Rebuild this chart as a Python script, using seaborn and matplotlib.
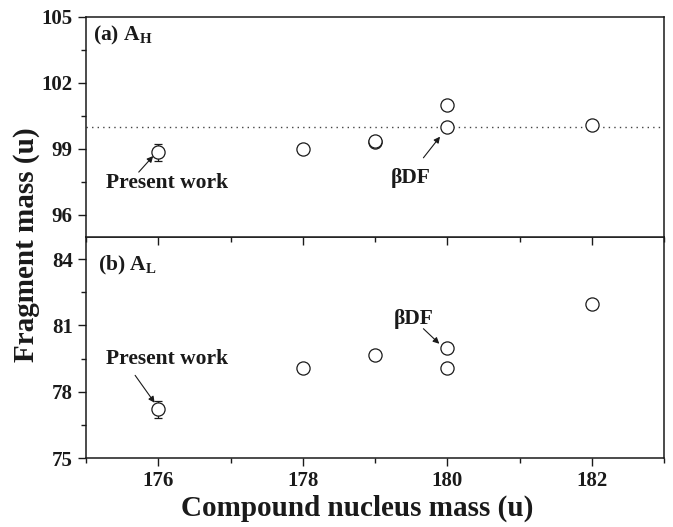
import matplotlib
matplotlib.use("Agg")
import matplotlib.pyplot as plt
import seaborn as sns
import pandas as pd

# ---- data ----
cn_mass_h = [176, 178, 179, 179, 180, 180, 182]
frag_h = [98.85, 99.0, 99.33, 99.38, 101.0, 100.0, 100.1]
cn_mass_l = [176, 178, 179, 180, 180, 182]
frag_l = [77.2, 79.05, 79.65, 80.0, 79.05, 81.95]
present_x = 176
present_h, present_h_err = 98.85, 0.4
present_l, present_l_err = 77.2, 0.4
ref_line_h = 100.0

sns.set_style("ticks")
plt.rcParams["font.family"] = ["Liberation Serif", "DejaVu Serif"]
plt.rcParams["font.weight"] = "bold"
plt.rcParams["mathtext.fontset"] = "custom"
plt.rcParams["mathtext.rm"] = "Liberation Serif:bold"
plt.rcParams["mathtext.bf"] = "Liberation Serif:bold"
plt.rcParams["axes.linewidth"] = 1.1

ink = "#1a1a1a"
fig = plt.figure(figsize=(6.73, 5.27), dpi=100)
left, right = 86 / 673, 664 / 673
ax1 = fig.add_axes([left, 1 - 237 / 527, right - left, 220 / 527])
ax2 = fig.add_axes([left, 1 - 458 / 527, right - left, 221 / 527])
ax1.set_zorder(3)

df_h = pd.DataFrame({"x": cn_mass_h, "y": frag_h})
df_l = pd.DataFrame({"x": cn_mass_l, "y": frag_l})

for ax, df, py, pe in [(ax1, df_h, present_h, present_h_err),
                       (ax2, df_l, present_l, present_l_err)]:
    ax.errorbar([present_x], [py], yerr=[pe], fmt="none", ecolor=ink,
                elinewidth=0.9, capsize=3, capthick=0.9, zorder=2)
    sns.scatterplot(data=df, x="x", y="y", ax=ax, marker="o", s=90,
                    facecolor="white", edgecolor=ink, linewidth=0.9, zorder=3)
    ax.set_xlim(175, 183)
    ax.set_xticks([176, 178, 180, 182])
    ax.set_xticks([175, 177, 179, 181, 183], minor=True)
    ax.set_xlabel("")
    ax.set_ylabel("")
    for s in ax.spines.values():
        s.set_visible(True)
        s.set_color(ink)
    ax.tick_params(which="major", direction="out", length=6, width=1.0,
                   color=ink, labelsize=15, labelcolor=ink)
    ax.tick_params(which="minor", direction="out", length=3.5, width=1.0, color=ink)
    ax.tick_params(top=False, right=False)

ax1.set_ylim(95, 105)
ax1.set_yticks([96, 99, 102, 105])
ax1.set_yticks([97.5, 100.5, 103.5], minor=True)
ax1.tick_params(axis="x", labelbottom=False)
ax1.axhline(ref_line_h, color="#444444", lw=1.0, ls=(0, (1, 3)), zorder=1)

ax2.set_ylim(75, 85)
ax2.set_yticks([75, 78, 81, 84])
ax2.set_yticks([76.5, 79.5, 82.5], minor=True)

for lbl in ax1.get_yticklabels() + ax2.get_yticklabels() + ax2.get_xticklabels():
    lbl.set_fontweight("bold")

# panel labels
ax1.text(0.012, 0.915, r"(a) A$_{\mathrm{H}}$", transform=ax1.transAxes,
         fontsize=15.5, fontweight="bold", color=ink, va="center", ha="left")
ax2.text(0.021, 0.869, r"(b) A$_{\mathrm{L}}$", transform=ax2.transAxes,
         fontsize=15.5, fontweight="bold", color=ink, va="center", ha="left")

arrow = dict(arrowstyle="-|>", color=ink, lw=0.8, mutation_scale=9,
             shrinkA=0, shrinkB=0)

# annotations (a)
ax1.text(176.12, 97.45, "Present work", fontsize=15.5, fontweight="bold",
         color=ink, ha="center", va="center")
ax1.annotate("", xy=(175.93, 98.68), xytext=(175.73, 97.95), arrowprops=arrow)
ax1.text(179.5, 97.7, "βDF", fontsize=15.5, fontweight="bold",
         color=ink, ha="center", va="center")
ax1.annotate("", xy=(179.90, 99.56), xytext=(179.67, 98.6), arrowprops=arrow)

# annotations (b)
ax2.text(176.12, 79.5, "Present work", fontsize=15.5, fontweight="bold",
         color=ink, ha="center", va="center")
ax2.annotate("", xy=(175.95, 77.5), xytext=(175.68, 78.74), arrowprops=arrow)
ax2.text(179.54, 81.29, "βDF", fontsize=15.5, fontweight="bold",
         color=ink, ha="center", va="center")
ax2.annotate("", xy=(179.89, 80.17), xytext=(179.67, 80.85), arrowprops=arrow)

fig.text(357.5 / 673, 1 - 508 / 527, "Compound nucleus mass (u)", fontsize=21,
         fontweight="bold", color=ink, ha="center", va="center")
fig.text(27 / 673, 1 - 245 / 527, "Fragment mass (u)", fontsize=21,
         fontweight="bold", color=ink, ha="center", va="center", rotation=90)

fig.savefig("out.png", dpi=100)
